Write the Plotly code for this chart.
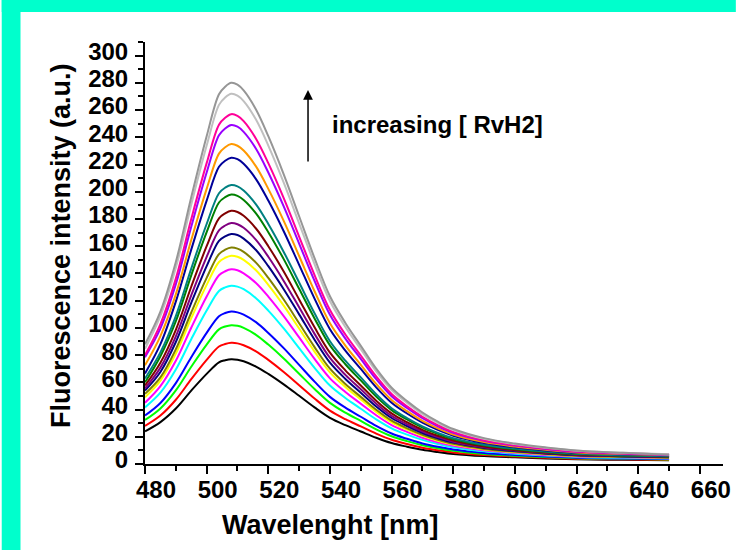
import plotly.graph_objects as go

# Emission wavelengths (nm)
wavelength = [480, 485, 490, 495, 500, 504, 506, 508, 510, 512, 516, 520,
              525, 530, 535, 540, 545, 550, 555, 560, 565, 570, 575, 580,
              590, 600, 610, 620, 635, 650]

# Fluorescence intensity (a.u.) for each titration step, lowest to highest [RvH2]
spec_01 = [24.0, 30.8, 40.8, 53.9, 66.2, 74.7, 76.2, 77.0, 76.6, 75.5, 71.6, 66.2, 58.5, 50.1, 41.6, 33.9, 28.5, 23.9, 19.3, 15.4, 12.7, 10.4, 8.8, 7.4, 5.8, 4.9, 4.1, 3.5, 3.1, 2.8]
spec_02 = [28.0, 35.6, 47.2, 62.3, 76.5, 86.3, 88.1, 89.0, 88.6, 87.2, 82.8, 76.5, 67.6, 57.9, 48.1, 39.2, 32.9, 27.6, 22.3, 17.8, 14.7, 12.0, 10.1, 8.5, 6.6, 5.5, 4.6, 3.8, 3.4, 3.0]
spec_03 = [32.3, 40.8, 54.1, 71.4, 87.7, 98.9, 101.0, 102.0, 101.5, 100.0, 94.9, 87.7, 77.5, 66.3, 55.1, 44.9, 37.7, 31.6, 25.5, 20.4, 16.8, 13.8, 11.5, 9.7, 7.4, 6.1, 5.1, 4.3, 3.8, 3.3]
spec_04 = [35.6, 44.8, 59.4, 78.4, 96.3, 108.6, 110.9, 112.0, 111.4, 109.8, 104.2, 96.3, 85.1, 72.8, 60.5, 49.3, 41.4, 34.7, 28.0, 22.4, 18.5, 15.1, 12.6, 10.6, 8.1, 6.6, 5.5, 4.6, 4.0, 3.6]
spec_05 = [41.6, 52.4, 69.4, 91.7, 112.7, 127.1, 129.7, 131.0, 130.3, 128.4, 121.8, 112.7, 99.6, 85.2, 70.7, 57.6, 48.5, 40.6, 32.8, 26.2, 21.6, 17.7, 14.7, 12.3, 9.3, 7.6, 6.2, 5.2, 4.5, 4.0]
spec_06 = [45.0, 57.2, 75.8, 100.1, 123.0, 138.7, 141.6, 143.0, 142.3, 140.1, 133.0, 123.0, 108.7, 93.0, 77.2, 62.9, 52.9, 44.3, 35.8, 28.6, 23.6, 19.3, 16.0, 13.4, 10.1, 8.2, 6.7, 5.6, 4.9, 4.3]
spec_07 = [49.0, 61.2, 81.1, 107.1, 131.6, 148.4, 151.5, 153.0, 152.2, 149.9, 142.3, 131.6, 116.3, 99.5, 82.6, 67.3, 56.6, 47.4, 38.3, 30.6, 25.2, 20.7, 17.1, 14.3, 10.7, 8.7, 7.1, 5.9, 5.1, 4.5]
spec_08 = [51.5, 63.6, 84.3, 111.3, 136.7, 154.2, 157.4, 159.0, 158.2, 155.8, 147.9, 136.7, 120.8, 103.4, 85.9, 70.0, 58.8, 49.3, 39.8, 31.8, 26.2, 21.5, 17.8, 14.8, 11.1, 9.0, 7.4, 6.1, 5.3, 4.7]
spec_09 = [54.0, 67.6, 89.6, 118.3, 145.3, 163.9, 167.3, 169.0, 168.2, 165.6, 157.2, 145.3, 128.4, 109.9, 91.3, 74.4, 62.5, 52.4, 42.3, 33.8, 27.9, 22.8, 18.9, 15.7, 11.8, 9.5, 7.8, 6.4, 5.6, 4.9]
spec_10 = [55.5, 70.8, 93.8, 123.9, 152.2, 171.7, 175.2, 177.0, 176.1, 173.5, 164.6, 152.2, 134.5, 115.1, 95.6, 77.9, 65.5, 54.9, 44.3, 35.4, 29.2, 23.9, 19.8, 16.4, 12.3, 9.9, 8.1, 6.7, 5.8, 5.1]
spec_11 = [57.7, 74.4, 98.6, 130.2, 160.0, 180.4, 184.1, 186.0, 185.1, 182.3, 173.0, 160.0, 141.4, 120.9, 100.4, 81.8, 68.8, 57.7, 46.5, 37.2, 30.7, 25.1, 20.8, 17.2, 12.9, 10.3, 8.4, 7.0, 6.0, 5.3]
spec_12 = [60.0, 79.2, 104.9, 138.6, 170.3, 192.1, 196.0, 198.0, 197.0, 194.0, 184.1, 170.3, 150.5, 128.7, 106.9, 87.1, 73.3, 61.4, 49.5, 39.6, 32.7, 26.7, 22.1, 18.3, 13.7, 10.9, 8.9, 7.3, 6.3, 5.6]
spec_13 = [62.8, 82.0, 108.7, 143.5, 176.3, 198.9, 203.0, 205.0, 204.0, 200.9, 190.7, 176.3, 155.8, 133.3, 110.7, 90.2, 75.9, 63.6, 51.3, 41.0, 33.8, 27.7, 22.9, 19.0, 14.1, 11.3, 9.2, 7.6, 6.5, 5.7]
spec_14 = [66.5, 88.0, 119.3, 157.5, 193.5, 218.3, 222.8, 225.0, 223.9, 220.5, 209.3, 193.5, 171.0, 146.3, 121.5, 99.0, 83.3, 69.8, 56.3, 45.0, 37.1, 30.4, 25.1, 20.8, 15.4, 12.3, 10.0, 8.2, 7.1, 6.2]
spec_15 = [72.5, 94.0, 124.6, 164.5, 202.1, 228.0, 232.7, 235.0, 233.8, 230.3, 218.6, 202.1, 178.6, 152.8, 126.9, 103.4, 87.0, 72.9, 58.8, 47.0, 38.8, 31.7, 26.2, 21.7, 16.1, 12.8, 10.4, 8.5, 7.3, 6.4]
spec_16 = [78.5, 99.6, 132.0, 174.3, 214.1, 241.5, 246.5, 249.0, 247.8, 244.0, 231.6, 214.1, 189.2, 161.9, 134.5, 109.6, 92.1, 77.2, 62.3, 49.8, 41.1, 33.6, 27.7, 22.9, 17.0, 13.5, 11.0, 9.0, 7.7, 6.7]
spec_17 = [80.0, 102.8, 136.2, 179.9, 221.0, 249.3, 254.4, 257.0, 255.7, 251.9, 239.0, 221.0, 195.3, 167.1, 138.8, 113.1, 95.1, 79.7, 64.3, 51.4, 42.4, 34.7, 28.6, 23.6, 17.5, 13.9, 11.3, 9.2, 7.9, 6.9]
spec_18 = [84.7, 108.8, 144.2, 190.4, 233.9, 263.8, 269.3, 272.0, 270.6, 266.6, 253.0, 233.9, 206.7, 176.8, 146.9, 119.7, 100.6, 84.3, 68.0, 54.4, 44.9, 36.7, 30.2, 25.0, 18.5, 14.6, 11.9, 9.7, 8.3, 7.1]
spec_19 = [88.0, 112.0, 148.4, 196.0, 240.8, 271.6, 277.2, 280.0, 278.6, 274.4, 260.4, 240.8, 212.8, 182.0, 151.2, 123.2, 103.6, 86.8, 70.0, 56.0, 46.2, 37.8, 31.1, 25.7, 19.0, 15.0, 12.2, 10.0, 8.2, 6.8]

spectra = [spec_01, spec_02, spec_03, spec_04, spec_05, spec_06, spec_07,
           spec_08, spec_09, spec_10, spec_11, spec_12, spec_13, spec_14,
           spec_15, spec_16, spec_17, spec_18, spec_19]

line_colors = ["#000000", "#FF0000", "#00FF00", "#0000FF", "#00FFFF",
               "#FF00FF", "#FFFF00", "#808000", "#000080", "#800080",
               "#800000", "#008000", "#008080", "#000099", "#FF9900",
               "#9900FF", "#FF0099", "#C0C0C0", "#969696"]

FONT = "Liberation Sans, Arial, sans-serif"
BORDER = "#00FFCC"

fig = go.Figure()
for values, color in zip(spectra, line_colors):
    fig.add_trace(go.Scatter(
        x=wavelength, y=values, mode="lines",
        line=dict(color=color, width=2, shape="spline", smoothing=1.0),
        hoverinfo="skip",
    ))

axis_common = dict(
    showline=True, linecolor="black", linewidth=2,
    showgrid=False, zeroline=False,
    ticks="outside", ticklen=8, tickwidth=2, tickcolor="black",
    tickfont=dict(family=FONT, size=24, color="black", weight="bold"),
)

fig.update_xaxes(
    range=[480, 667.5], tickmode="linear", tick0=480, dtick=20,
    minor=dict(dtick=10, ticks="outside", ticklen=5, tickwidth=2,
               tickcolor="black", showgrid=False),
    ticklabelshift=11, ticklabelstandoff=-5,
    **axis_common,
)
fig.update_yaxes(
    range=[0, 310], tickmode="linear", tick0=0, dtick=20,
    minor=dict(dtick=10, ticks="outside", ticklen=5, tickwidth=2,
               tickcolor="black", showgrid=False),
    ticklabelshift=-4, ticklabelstandoff=2,
    **axis_common,
)

# coloured frame strips along the left and top edges
fig.add_shape(type="rect", xref="paper", yref="paper",
              x0=-145 / 585, x1=(19 - 145) / 585, y0=-86 / 422, y1=464 / 422,
              fillcolor=BORDER, line_width=0, layer="below")
fig.add_shape(type="rect", xref="paper", yref="paper",
              x0=-145 / 585, x1=(743 - 145) / 585, y0=(464 - 12) / 422, y1=464 / 422,
              fillcolor=BORDER, line_width=0, layer="below")

# axis titles
fig.add_annotation(text="Wavelenght [nm]", xref="paper", yref="paper",
                   x=(332.5 - 145) / 585, y=(464 - 525) / 422,
                   xanchor="center", yanchor="middle", showarrow=False,
                   font=dict(family=FONT, size=27, color="black", weight="bold"))
fig.add_annotation(text="Fluorescence intensity (a.u.)", xref="paper", yref="paper",
                   x=(60 - 145) / 585, y=(464 - 246) / 422, textangle=-90,
                   xanchor="center", yanchor="middle", showarrow=False,
                   font=dict(family=FONT, size=27, color="black", weight="bold"))

# arrow and label
fig.add_annotation(text="", xref="paper", yref="paper",
                   x=(310 - 145) / 585, y=(464 - 90) / 422,
                   ax=0, ay=73, showarrow=True, arrowhead=2, arrowsize=1.3,
                   arrowwidth=1.5, arrowcolor="black", standoff=0)
fig.add_annotation(text="increasing [ RvH2]", xref="paper", yref="paper",
                   x=(332 - 145) / 585, y=(464 - 125) / 422,
                   xanchor="left", yanchor="middle", showarrow=False,
                   font=dict(family=FONT, size=24, color="black", weight="bold"))

fig.update_layout(
    width=743, height=550,
    margin=dict(l=145, r=13, t=42, b=86),
    paper_bgcolor="white", plot_bgcolor="white",
    showlegend=False,
)

fig.write_html("out.html")
